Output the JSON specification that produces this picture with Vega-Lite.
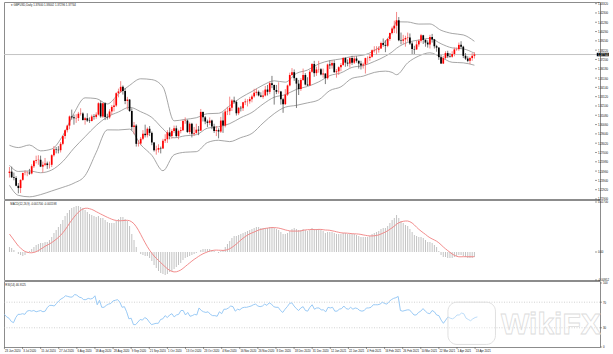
{
"$schema": "https://vega.github.io/schema/vega-lite/v6.json",
"background": "white",
"padding": {"left": 2, "top": 1, "right": 0, "bottom": 0},
"spacing": 1,
"bounds": "flush",
"config": {
  "view": {"stroke": "#8c8c8c", "strokeWidth": 1},
  "font": "Liberation Sans",
  "text": {"font": "Liberation Sans"}
},
"resolve": {"scale": {"x": "independent", "y": "independent"}},
"datasets": {
"pt": [{"v":1.4332,"t":"1.43320"},{"v":1.423,"t":"1.42300"},{"v":1.4128,"t":"1.41280"},{"v":1.4026,"t":"1.40260"},{"v":1.3924,"t":"1.39240"},{"v":1.3822,"t":"1.38220"},{"v":1.372,"t":"1.37200"},{"v":1.3618,"t":"1.36180"},{"v":1.3516,"t":"1.35160"},{"v":1.3414,"t":"1.34140"},{"v":1.3312,"t":"1.33120"},{"v":1.321,"t":"1.32100"},{"v":1.3108,"t":"1.31080"},{"v":1.3006,"t":"1.30060"},{"v":1.2904,"t":"1.29040"},{"v":1.2802,"t":"1.28020"},{"v":1.27,"t":"1.27000"},{"v":1.2598,"t":"1.25980"},{"v":1.2496,"t":"1.24960"},{"v":1.2394,"t":"1.23940"},{"v":1.2292,"t":"1.22920"},{"v":1.219,"t":"1.21900"}],
"mt": [{"v":0.017,"t":"0.01700"},{"v":0,"t":"0.00"},{"v":-0.00952,"t":"-0.00952"}],
"rt": [{"v":100,"t":"100"},{"v":70,"t":"70"},{"v":30,"t":"30"},{"v":0,"t":"0"}],
"dt": [{"i":0,"t":"23 Jun 2020"},{"i":8,"t":"3 Jul 2020"},{"i":16,"t":"15 Jul 2020"},{"i":24,"t":"27 Jul 2020"},{"i":32,"t":"6 Aug 2020"},{"i":40,"t":"18 Aug 2020"},{"i":48,"t":"28 Aug 2020"},{"i":56,"t":"9 Sep 2020"},{"i":64,"t":"21 Sep 2020"},{"i":72,"t":"1 Oct 2020"},{"i":80,"t":"13 Oct 2020"},{"i":88,"t":"23 Oct 2020"},{"i":96,"t":"4 Nov 2020"},{"i":104,"t":"16 Nov 2020"},{"i":112,"t":"26 Nov 2020"},{"i":120,"t":"8 Dec 2020"},{"i":128,"t":"18 Dec 2020"},{"i":136,"t":"31 Dec 2020"},{"i":144,"t":"12 Jan 2021"},{"i":152,"t":"22 Jan 2021"},{"i":160,"t":"4 Feb 2021"},{"i":168,"t":"16 Feb 2021"},{"i":176,"t":"26 Feb 2021"},{"i":184,"t":"10 Mar 2021"},{"i":192,"t":"22 Mar 2021"},{"i":200,"t":"1 Apr 2021"},{"i":208,"t":"13 Apr 2021"}],
"bb": [
{"i":0,"u":1.2779,"m":1.2560,"l":1.2341},{"i":4,"u":1.2754,"m":1.2492,"l":1.2230},{"i":9,"u":1.2782,"m":1.2498,"l":1.2214},{"i":14,"u":1.2718,"m":1.2478,"l":1.2238},{"i":19,"u":1.2738,"m":1.2508,"l":1.2278},{"i":24,"u":1.2886,"m":1.2602,"l":1.2318},{"i":29,"u":1.3130,"m":1.2747,"l":1.2364},{"i":34,"u":1.3299,"m":1.2873,"l":1.2447},{"i":39,"u":1.3291,"m":1.2996,"l":1.2701},{"i":44,"u":1.3232,"m":1.3090,"l":1.2948},{"i":49,"u":1.3341,"m":1.3144,"l":1.2947},{"i":54,"u":1.3436,"m":1.3196,"l":1.2956},{"i":59,"u":1.3508,"m":1.3147,"l":1.2786},{"i":64,"u":1.3499,"m":1.3084,"l":1.2669},{"i":69,"u":1.3418,"m":1.2959,"l":1.2500},{"i":74,"u":1.3047,"m":1.2861,"l":1.2675},{"i":79,"u":1.3063,"m":1.2883,"l":1.2703},{"i":84,"u":1.3081,"m":1.2895,"l":1.2709},{"i":89,"u":1.3125,"m":1.2967,"l":1.2809},{"i":94,"u":1.3130,"m":1.2982,"l":1.2834},{"i":99,"u":1.3213,"m":1.3016,"l":1.2819},{"i":104,"u":1.3301,"m":1.3082,"l":1.2863},{"i":109,"u":1.3369,"m":1.3139,"l":1.2909},{"i":114,"u":1.3439,"m":1.3231,"l":1.3023},{"i":119,"u":1.3486,"m":1.3306,"l":1.3126},{"i":124,"u":1.3471,"m":1.3334,"l":1.3197},{"i":129,"u":1.3567,"m":1.3392,"l":1.3217},{"i":134,"u":1.3604,"m":1.3424,"l":1.3244},{"i":139,"u":1.3671,"m":1.3474,"l":1.3277},{"i":144,"u":1.3707,"m":1.3543,"l":1.3379},{"i":149,"u":1.3726,"m":1.3573,"l":1.3420},{"i":154,"u":1.3753,"m":1.3633,"l":1.3513},{"i":159,"u":1.3767,"m":1.3652,"l":1.3537},{"i":164,"u":1.3818,"m":1.3698,"l":1.3578},{"i":169,"u":1.3920,"m":1.3756,"l":1.3592},{"i":172,"u":1.4026,"m":1.3802,"l":1.3578},{"i":174,"u":1.4133,"m":1.3843,"l":1.3553},{"i":179,"u":1.4131,"m":1.3907,"l":1.3683},{"i":184,"u":1.4108,"m":1.3933,"l":1.3758},{"i":189,"u":1.4109,"m":1.3951,"l":1.3793},{"i":194,"u":1.4040,"m":1.3892,"l":1.3744},{"i":199,"u":1.4005,"m":1.3847,"l":1.3689},{"i":204,"u":1.3989,"m":1.3836,"l":1.3683},{"i":209,"u":1.3919,"m":1.3788,"l":1.3657}
],
"bars": [
{"i":0,"o":1.2475,"h":1.2542,"l":1.2425,"c":1.2490,"m":0.0017,"s":0.00612,"r":51},
{"i":1,"o":1.2490,"h":1.2545,"l":1.2420,"c":1.2428,"m":0.00136,"s":0.0051,"r":47},
{"i":2,"o":1.2428,"h":1.2480,"l":1.2395,"c":1.2420,"m":0.00068,"s":0.00408,"r":45},
{"i":3,"o":1.2420,"h":1.2440,"l":1.2330,"c":1.2335,"m":0,"s":0.00306,"r":40},
{"i":4,"o":1.2335,"h":1.2365,"l":1.2252,"c":1.2310,"m":-0.00068,"s":0.00204,"r":38},
{"i":5,"o":1.2310,"h":1.2405,"l":1.2255,"c":1.2400,"m":-0.00102,"s":0.00136,"r":46},
{"i":6,"o":1.2400,"h":1.2480,"l":1.2390,"c":1.2475,"m":-0.00136,"s":0.00068,"r":51},
{"i":7,"o":1.2475,"h":1.2505,"l":1.2450,"c":1.2478,"m":-0.00102,"s":0.00017,"r":51},
{"i":8,"o":1.2478,"h":1.2495,"l":1.2440,"c":1.2480,"m":-0.00034,"s":-0.00007,"r":52},
{"i":9,"o":1.2480,"h":1.2520,"l":1.2455,"c":1.2470,"m":0.00034,"s":-0.00024,"r":51},
{"i":10,"o":1.2470,"h":1.2570,"l":1.2460,"c":1.2550,"m":0.00102,"s":-0.00027,"r":56},
{"i":11,"o":1.2550,"h":1.2615,"l":1.2530,"c":1.2610,"m":0.0017,"s":-0.00014,"r":57},
{"i":12,"o":1.2610,"h":1.2665,"l":1.2580,"c":1.2617,"m":0.00238,"s":0.0001,"r":56},
{"i":13,"o":1.2617,"h":1.2670,"l":1.2565,"c":1.2620,"m":0.00272,"s":0.00048,"r":57},
{"i":14,"o":1.2620,"h":1.2665,"l":1.2540,"c":1.2545,"m":0.00306,"s":0.00095,"r":55},
{"i":15,"o":1.2545,"h":1.2600,"l":1.2480,"c":1.2565,"m":0.00306,"s":0.00143,"r":56},
{"i":16,"o":1.2565,"h":1.2640,"l":1.2550,"c":1.2580,"m":0.0034,"s":0.00194,"r":57},
{"i":17,"o":1.2580,"h":1.2600,"l":1.2520,"c":1.2562,"m":0.0034,"s":0.00235,"r":55},
{"i":18,"o":1.2562,"h":1.2600,"l":1.2525,"c":1.2565,"m":0.00408,"s":0.00275,"r":56},
{"i":19,"o":1.2565,"h":1.2680,"l":1.2540,"c":1.2670,"m":0.0051,"s":0.0032,"r":62},
{"i":20,"o":1.2670,"h":1.2770,"l":1.2655,"c":1.2735,"m":0.00646,"s":0.00374,"r":65},
{"i":21,"o":1.2735,"h":1.2760,"l":1.2690,"c":1.2730,"m":0.00748,"s":0.00432,"r":65},
{"i":22,"o":1.2730,"h":1.2770,"l":1.2690,"c":1.2725,"m":0.0085,"s":0.00496,"r":64},
{"i":23,"o":1.2725,"h":1.2815,"l":1.2700,"c":1.2795,"m":0.00952,"s":0.00568,"r":68},
{"i":24,"o":1.2795,"h":1.2890,"l":1.2780,"c":1.2880,"m":0.01088,"s":0.00653,"r":72},
{"i":25,"o":1.2880,"h":1.2950,"l":1.2850,"c":1.2945,"m":0.01224,"s":0.00751,"r":75},
{"i":26,"o":1.2945,"h":1.3005,"l":1.2920,"c":1.2995,"m":0.01326,"s":0.0086,"r":77},
{"i":27,"o":1.2995,"h":1.3105,"l":1.2955,"c":1.3095,"m":0.01428,"s":0.00976,"r":80},
{"i":28,"o":1.3095,"h":1.3170,"l":1.3060,"c":1.3085,"m":0.01496,"s":0.01085,"r":79},
{"i":29,"o":1.3085,"h":1.3115,"l":1.3005,"c":1.3075,"m":0.0153,"s":0.01183,"r":78},
{"i":30,"o":1.3075,"h":1.3120,"l":1.3025,"c":1.3078,"m":0.01564,"s":0.01272,"r":78},
{"i":31,"o":1.3078,"h":1.3145,"l":1.3045,"c":1.3125,"m":0.01564,"s":0.01353,"r":82},
{"i":32,"o":1.3125,"h":1.3185,"l":1.3105,"c":1.3128,"m":0.0153,"s":0.01418,"r":81},
{"i":33,"o":1.3128,"h":1.3140,"l":1.3050,"c":1.3055,"m":0.01496,"s":0.01462,"r":78},
{"i":34,"o":1.3055,"h":1.3090,"l":1.3005,"c":1.3075,"m":0.01428,"s":0.01486,"r":77},
{"i":35,"o":1.3075,"h":1.3130,"l":1.3035,"c":1.3050,"m":0.0136,"s":0.01489,"r":74},
{"i":36,"o":1.3050,"h":1.3085,"l":1.3025,"c":1.3045,"m":0.01292,"s":0.01472,"r":74},
{"i":37,"o":1.3045,"h":1.3115,"l":1.3040,"c":1.3095,"m":0.01258,"s":0.01448,"r":76},
{"i":38,"o":1.3095,"h":1.3120,"l":1.3060,"c":1.3090,"m":0.01224,"s":0.01414,"r":75},
{"i":39,"o":1.3090,"h":1.3140,"l":1.3070,"c":1.3115,"m":0.0119,"s":0.0137,"r":76},
{"i":40,"o":1.3115,"h":1.3250,"l":1.3105,"c":1.3240,"m":0.01224,"s":0.01333,"r":80},
{"i":41,"o":1.3240,"h":1.3267,"l":1.3080,"c":1.3095,"m":0.01156,"s":0.01292,"r":66},
{"i":42,"o":1.3095,"h":1.3245,"l":1.3080,"c":1.3240,"m":0.01156,"s":0.01255,"r":73},
{"i":43,"o":1.3240,"h":1.3250,"l":1.3055,"c":1.3090,"m":0.01088,"s":0.01217,"r":62},
{"i":44,"o":1.3090,"h":1.3125,"l":1.3060,"c":1.3085,"m":0.0102,"s":0.0118,"r":62},
{"i":45,"o":1.3085,"h":1.3175,"l":1.3070,"c":1.3150,"m":0.00986,"s":0.01146,"r":65},
{"i":46,"o":1.3150,"h":1.3220,"l":1.3115,"c":1.3200,"m":0.00986,"s":0.01115,"r":67},
{"i":47,"o":1.3200,"h":1.3285,"l":1.3150,"c":1.3215,"m":0.00986,"s":0.01088,"r":68},
{"i":48,"o":1.3215,"h":1.3360,"l":1.3200,"c":1.3350,"m":0.01054,"s":0.01074,"r":72},
{"i":49,"o":1.3350,"h":1.3400,"l":1.3305,"c":1.3370,"m":0.01122,"s":0.01061,"r":73},
{"i":50,"o":1.3370,"h":1.3482,"l":1.3355,"c":1.3420,"m":0.0119,"s":0.01064,"r":74},
{"i":51,"o":1.3420,"h":1.3435,"l":1.3335,"c":1.3375,"m":0.0119,"s":0.01068,"r":70},
{"i":52,"o":1.3375,"h":1.3405,"l":1.3230,"c":1.3265,"m":0.01122,"s":0.01074,"r":62},
{"i":53,"o":1.3265,"h":1.3310,"l":1.3170,"c":1.3280,"m":0.01054,"s":0.01078,"r":63},
{"i":54,"o":1.3280,"h":1.3285,"l":1.3145,"c":1.3155,"m":0.00884,"s":0.01064,"r":55},
{"i":55,"o":1.3155,"h":1.3185,"l":1.2940,"c":1.2980,"m":0.00612,"s":0.01023,"r":44},
{"i":56,"o":1.2980,"h":1.3035,"l":1.2900,"c":1.2995,"m":0.00408,"s":0.00959,"r":45},
{"i":57,"o":1.2995,"h":1.3010,"l":1.2765,"c":1.2795,"m":0.0017,"s":0.0086,"r":35},
{"i":58,"o":1.2795,"h":1.2835,"l":1.2765,"c":1.2798,"m":0,"s":0.00738,"r":35},
{"i":59,"o":1.2798,"h":1.2870,"l":1.2780,"c":1.2850,"m":-0.00068,"s":0.00598,"r":39},
{"i":60,"o":1.2850,"h":1.2945,"l":1.2835,"c":1.2905,"m":-0.00102,"s":0.00452,"r":43},
{"i":61,"o":1.2905,"h":1.3005,"l":1.2865,"c":1.2890,"m":-0.00136,"s":0.00313,"r":42},
{"i":62,"o":1.2890,"h":1.2975,"l":1.2865,"c":1.2960,"m":-0.00136,"s":0.0018,"r":46},
{"i":63,"o":1.2960,"h":1.2990,"l":1.2880,"c":1.2915,"m":-0.00204,"s":0.00061,"r":44},
{"i":64,"o":1.2915,"h":1.2930,"l":1.2780,"c":1.2810,"m":-0.00306,"s":-0.00041,"r":39},
{"i":65,"o":1.2810,"h":1.2815,"l":1.2710,"c":1.2725,"m":-0.00442,"s":-0.00136,"r":35},
{"i":66,"o":1.2725,"h":1.2775,"l":1.2676,"c":1.2730,"m":-0.00544,"s":-0.00214,"r":36},
{"i":67,"o":1.2730,"h":1.2790,"l":1.2700,"c":1.2750,"m":-0.00646,"s":-0.00286,"r":37},
{"i":68,"o":1.2750,"h":1.2765,"l":1.2690,"c":1.2745,"m":-0.00714,"s":-0.0036,"r":37},
{"i":69,"o":1.2745,"h":1.2850,"l":1.2740,"c":1.2830,"m":-0.00748,"s":-0.00432,"r":43},
{"i":70,"o":1.2830,"h":1.2900,"l":1.2805,"c":1.2845,"m":-0.00782,"s":-0.00503,"r":44},
{"i":71,"o":1.2845,"h":1.2945,"l":1.2805,"c":1.2920,"m":-0.00748,"s":-0.00571,"r":49},
{"i":72,"o":1.2920,"h":1.2975,"l":1.2845,"c":1.2880,"m":-0.0068,"s":-0.00622,"r":46},
{"i":73,"o":1.2880,"h":1.2955,"l":1.2850,"c":1.2935,"m":-0.00646,"s":-0.0066,"r":50},
{"i":74,"o":1.2935,"h":1.2995,"l":1.2915,"c":1.2965,"m":-0.00578,"s":-0.00677,"r":52},
{"i":75,"o":1.2965,"h":1.2995,"l":1.2865,"c":1.2880,"m":-0.0051,"s":-0.00673,"r":47},
{"i":76,"o":1.2880,"h":1.2950,"l":1.2845,"c":1.2935,"m":-0.00442,"s":-0.00649,"r":50},
{"i":77,"o":1.2935,"h":1.2980,"l":1.2910,"c":1.2945,"m":-0.00374,"s":-0.00612,"r":51},
{"i":78,"o":1.2945,"h":1.3060,"l":1.2935,"c":1.3045,"m":-0.00272,"s":-0.00558,"r":57},
{"i":79,"o":1.3045,"h":1.3085,"l":1.3015,"c":1.3050,"m":-0.00204,"s":-0.00496,"r":57},
{"i":80,"o":1.3050,"h":1.3060,"l":1.2915,"c":1.2925,"m":-0.0017,"s":-0.00432,"r":50},
{"i":81,"o":1.2925,"h":1.3030,"l":1.2900,"c":1.3015,"m":-0.00136,"s":-0.00371,"r":54},
{"i":82,"o":1.3015,"h":1.3025,"l":1.2865,"c":1.2905,"m":-0.00102,"s":-0.00309,"r":48},
{"i":83,"o":1.2905,"h":1.2980,"l":1.2880,"c":1.2915,"m":-0.00068,"s":-0.00252,"r":49},
{"i":84,"o":1.2915,"h":1.3015,"l":1.2905,"c":1.2950,"m":-0.00034,"s":-0.00201,"r":51},
{"i":85,"o":1.2950,"h":1.2990,"l":1.2890,"c":1.2940,"m":0,"s":-0.0015,"r":50},
{"i":86,"o":1.2940,"h":1.3177,"l":1.2935,"c":1.3145,"m":0.00068,"s":-0.00102,"r":61},
{"i":87,"o":1.3145,"h":1.3150,"l":1.3040,"c":1.3085,"m":0.00102,"s":-0.00061,"r":57},
{"i":88,"o":1.3085,"h":1.3100,"l":1.3010,"c":1.3040,"m":0.00102,"s":-0.00027,"r":55},
{"i":89,"o":1.3040,"h":1.3060,"l":1.2980,"c":1.3025,"m":0.00102,"s":0.00003,"r":54},
{"i":90,"o":1.3025,"h":1.3085,"l":1.3000,"c":1.3050,"m":0.00102,"s":0.00031,"r":55},
{"i":91,"o":1.3050,"h":1.3060,"l":1.2955,"c":1.2985,"m":0.00068,"s":0.00048,"r":51},
{"i":92,"o":1.2985,"h":1.3015,"l":1.2915,"c":1.2935,"m":0.00034,"s":0.00061,"r":49},
{"i":93,"o":1.2935,"h":1.2990,"l":1.2880,"c":1.2945,"m":0,"s":0.00065,"r":49},
{"i":94,"o":1.2945,"h":1.2965,"l":1.2855,"c":1.2930,"m":-0.00034,"s":0.00061,"r":48},
{"i":95,"o":1.2930,"h":1.3090,"l":1.2915,"c":1.3050,"m":0.00034,"s":0.00058,"r":55},
{"i":96,"o":1.3050,"h":1.3140,"l":1.2915,"c":1.2995,"m":0.00068,"s":0.00054,"r":52},
{"i":97,"o":1.2995,"h":1.3175,"l":1.2975,"c":1.3150,"m":0.0017,"s":0.00061,"r":59},
{"i":98,"o":1.3150,"h":1.3200,"l":1.3110,"c":1.3153,"m":0.00272,"s":0.00078,"r":59},
{"i":99,"o":1.3153,"h":1.3312,"l":1.3110,"c":1.3190,"m":0.00374,"s":0.00109,"r":61},
{"i":100,"o":1.3190,"h":1.3285,"l":1.3155,"c":1.3270,"m":0.00476,"s":0.00156,"r":64},
{"i":101,"o":1.3270,"h":1.3312,"l":1.3235,"c":1.3255,"m":0.00544,"s":0.00211,"r":63},
{"i":102,"o":1.3255,"h":1.3270,"l":1.3105,"c":1.3130,"m":0.00544,"s":0.00272,"r":56},
{"i":103,"o":1.3130,"h":1.3200,"l":1.3110,"c":1.3190,"m":0.00578,"s":0.0034,"r":59},
{"i":104,"o":1.3190,"h":1.3210,"l":1.3150,"c":1.3185,"m":0.00612,"s":0.00405,"r":58},
{"i":105,"o":1.3185,"h":1.3255,"l":1.3155,"c":1.3250,"m":0.00646,"s":0.00469,"r":61},
{"i":106,"o":1.3250,"h":1.3290,"l":1.3220,"c":1.3260,"m":0.0068,"s":0.00524,"r":62},
{"i":107,"o":1.3260,"h":1.3285,"l":1.3205,"c":1.3262,"m":0.00714,"s":0.00575,"r":62},
{"i":108,"o":1.3262,"h":1.3310,"l":1.3235,"c":1.3285,"m":0.00748,"s":0.00615,"r":63},
{"i":109,"o":1.3285,"h":1.3335,"l":1.3250,"c":1.3315,"m":0.00782,"s":0.00649,"r":64},
{"i":110,"o":1.3315,"h":1.3398,"l":1.3300,"c":1.3355,"m":0.00816,"s":0.0068,"r":66},
{"i":111,"o":1.3355,"h":1.3400,"l":1.3325,"c":1.3365,"m":0.0085,"s":0.00714,"r":67},
{"i":112,"o":1.3365,"h":1.3380,"l":1.3315,"c":1.3325,"m":0.0085,"s":0.00745,"r":64},
{"i":113,"o":1.3325,"h":1.3360,"l":1.3305,"c":1.3310,"m":0.00816,"s":0.00768,"r":63},
{"i":114,"o":1.3310,"h":1.3380,"l":1.3290,"c":1.3325,"m":0.00816,"s":0.00785,"r":64},
{"i":115,"o":1.3325,"h":1.3430,"l":1.3315,"c":1.3390,"m":0.00816,"s":0.00802,"r":67},
{"i":116,"o":1.3390,"h":1.3440,"l":1.3325,"c":1.3365,"m":0.00816,"s":0.00813,"r":65},
{"i":117,"o":1.3365,"h":1.3480,"l":1.3340,"c":1.3460,"m":0.0085,"s":0.00823,"r":69},
{"i":118,"o":1.3460,"h":1.3540,"l":1.3405,"c":1.3440,"m":0.0085,"s":0.0083,"r":67},
{"i":119,"o":1.3440,"h":1.3445,"l":1.3225,"c":1.3385,"m":0.00816,"s":0.0083,"r":63},
{"i":120,"o":1.3385,"h":1.3440,"l":1.3340,"c":1.3365,"m":0.00782,"s":0.00823,"r":62},
{"i":121,"o":1.3365,"h":1.3470,"l":1.3345,"c":1.3368,"m":0.00748,"s":0.00813,"r":62},
{"i":122,"o":1.3368,"h":1.3375,"l":1.3225,"c":1.3285,"m":0.0068,"s":0.00796,"r":57},
{"i":123,"o":1.3285,"h":1.3300,"l":1.3135,"c":1.3230,"m":0.00612,"s":0.00775,"r":54},
{"i":124,"o":1.3230,"h":1.3395,"l":1.3220,"c":1.3335,"m":0.00612,"s":0.00751,"r":59},
{"i":125,"o":1.3335,"h":1.3445,"l":1.3320,"c":1.3435,"m":0.00646,"s":0.00734,"r":63},
{"i":126,"o":1.3435,"h":1.3575,"l":1.3425,"c":1.3550,"m":0.00714,"s":0.00717,"r":68},
{"i":127,"o":1.3550,"h":1.3625,"l":1.3540,"c":1.3580,"m":0.00782,"s":0.00711,"r":69},
{"i":128,"o":1.3580,"h":1.3610,"l":1.3485,"c":1.3515,"m":0.00816,"s":0.00711,"r":64},
{"i":129,"o":1.3515,"h":1.3520,"l":1.3188,"c":1.3455,"m":0.00782,"s":0.00711,"r":60},
{"i":130,"o":1.3455,"h":1.3495,"l":1.3330,"c":1.3395,"m":0.00748,"s":0.00711,"r":57},
{"i":131,"o":1.3395,"h":1.3515,"l":1.3375,"c":1.3495,"m":0.00748,"s":0.00717,"r":61},
{"i":132,"o":1.3495,"h":1.3620,"l":1.3485,"c":1.3550,"m":0.00782,"s":0.00738,"r":63},
{"i":133,"o":1.3550,"h":1.3570,"l":1.3435,"c":1.3445,"m":0.00748,"s":0.00751,"r":57},
{"i":134,"o":1.3445,"h":1.3525,"l":1.3430,"c":1.3435,"m":0.00714,"s":0.00758,"r":56},
{"i":135,"o":1.3435,"h":1.3605,"l":1.3430,"c":1.3585,"m":0.00748,"s":0.00762,"r":62},
{"i":136,"o":1.3585,"h":1.3680,"l":1.3575,"c":1.3670,"m":0.00816,"s":0.00768,"r":66},
{"i":137,"o":1.3670,"h":1.3705,"l":1.3530,"c":1.3570,"m":0.00782,"s":0.00762,"r":59},
{"i":138,"o":1.3570,"h":1.3640,"l":1.3540,"c":1.3610,"m":0.00782,"s":0.00762,"r":61},
{"i":139,"o":1.3610,"h":1.3705,"l":1.3575,"c":1.3612,"m":0.00782,"s":0.00768,"r":61},
{"i":140,"o":1.3612,"h":1.3625,"l":1.3545,"c":1.3555,"m":0.00748,"s":0.00768,"r":58},
{"i":141,"o":1.3555,"h":1.3620,"l":1.3520,"c":1.3565,"m":0.00714,"s":0.00758,"r":58},
{"i":142,"o":1.3565,"h":1.3570,"l":1.3450,"c":1.3515,"m":0.00646,"s":0.00748,"r":55},
{"i":143,"o":1.3515,"h":1.3675,"l":1.3500,"c":1.3665,"m":0.0068,"s":0.00745,"r":62},
{"i":144,"o":1.3665,"h":1.3710,"l":1.3615,"c":1.3655,"m":0.0068,"s":0.00738,"r":61},
{"i":145,"o":1.3655,"h":1.3710,"l":1.3620,"c":1.3680,"m":0.0068,"s":0.00721,"r":62},
{"i":146,"o":1.3680,"h":1.3710,"l":1.3575,"c":1.3580,"m":0.00646,"s":0.00707,"r":56},
{"i":147,"o":1.3580,"h":1.3615,"l":1.3520,"c":1.3590,"m":0.00612,"s":0.00687,"r":56},
{"i":148,"o":1.3590,"h":1.3645,"l":1.3550,"c":1.3635,"m":0.00612,"s":0.0067,"r":59},
{"i":149,"o":1.3635,"h":1.3680,"l":1.3590,"c":1.3660,"m":0.00612,"s":0.00653,"r":60},
{"i":150,"o":1.3660,"h":1.3745,"l":1.3650,"c":1.3735,"m":0.00646,"s":0.00646,"r":64},
{"i":151,"o":1.3735,"h":1.3745,"l":1.3640,"c":1.3685,"m":0.00646,"s":0.00646,"r":60},
{"i":152,"o":1.3685,"h":1.3720,"l":1.3645,"c":1.3675,"m":0.00612,"s":0.00639,"r":59},
{"i":153,"o":1.3675,"h":1.3745,"l":1.3630,"c":1.3735,"m":0.00612,"s":0.00632,"r":62},
{"i":154,"o":1.3735,"h":1.3760,"l":1.3660,"c":1.3685,"m":0.00612,"s":0.00622,"r":59},
{"i":155,"o":1.3685,"h":1.3755,"l":1.3670,"c":1.3730,"m":0.00612,"s":0.00619,"r":61},
{"i":156,"o":1.3730,"h":1.3755,"l":1.3685,"c":1.3705,"m":0.00578,"s":0.00615,"r":60},
{"i":157,"o":1.3705,"h":1.3710,"l":1.3620,"c":1.3675,"m":0.00544,"s":0.00609,"r":57},
{"i":158,"o":1.3675,"h":1.3705,"l":1.3610,"c":1.3655,"m":0.0051,"s":0.00598,"r":56},
{"i":159,"o":1.3655,"h":1.3685,"l":1.3620,"c":1.3665,"m":0.0051,"s":0.00581,"r":57},
{"i":160,"o":1.3665,"h":1.3740,"l":1.3566,"c":1.3735,"m":0.0051,"s":0.00568,"r":61},
{"i":161,"o":1.3735,"h":1.3755,"l":1.3675,"c":1.3737,"m":0.0051,"s":0.00554,"r":61},
{"i":162,"o":1.3737,"h":1.3780,"l":1.3705,"c":1.3750,"m":0.00544,"s":0.00547,"r":62},
{"i":163,"o":1.3750,"h":1.3830,"l":1.3740,"c":1.3820,"m":0.00612,"s":0.00547,"r":66},
{"i":164,"o":1.3820,"h":1.3865,"l":1.3795,"c":1.3825,"m":0.00646,"s":0.00551,"r":66},
{"i":165,"o":1.3825,"h":1.3865,"l":1.3775,"c":1.3827,"m":0.0068,"s":0.00564,"r":66},
{"i":166,"o":1.3827,"h":1.3865,"l":1.3795,"c":1.3840,"m":0.00714,"s":0.00581,"r":67},
{"i":167,"o":1.3840,"h":1.3915,"l":1.3835,"c":1.3900,"m":0.00782,"s":0.00612,"r":70},
{"i":168,"o":1.3900,"h":1.3950,"l":1.3860,"c":1.3880,"m":0.00816,"s":0.00646,"r":68},
{"i":169,"o":1.3880,"h":1.3930,"l":1.3800,"c":1.3870,"m":0.00816,"s":0.0068,"r":67},
{"i":170,"o":1.3870,"h":1.3955,"l":1.3855,"c":1.3945,"m":0.00884,"s":0.00721,"r":71},
{"i":171,"o":1.3945,"h":1.4015,"l":1.3925,"c":1.4010,"m":0.00986,"s":0.00772,"r":74},
{"i":172,"o":1.4010,"h":1.4080,"l":1.3995,"c":1.4060,"m":0.01088,"s":0.00823,"r":76},
{"i":173,"o":1.4060,"h":1.4145,"l":1.4010,"c":1.4090,"m":0.01156,"s":0.00881,"r":77},
{"i":174,"o":1.4090,"h":1.4241,"l":1.4005,"c":1.4150,"m":0.01258,"s":0.00945,"r":79},
{"i":175,"o":1.4150,"h":1.4185,"l":1.3920,"c":1.3930,"m":0.01156,"s":0.00993,"r":57},
{"i":176,"o":1.3930,"h":1.4015,"l":1.3886,"c":1.3925,"m":0.01054,"s":0.01023,"r":56},
{"i":177,"o":1.3925,"h":1.3990,"l":1.3890,"c":1.3940,"m":0.00986,"s":0.01044,"r":57},
{"i":178,"o":1.3940,"h":1.3980,"l":1.3860,"c":1.3955,"m":0.00918,"s":0.01054,"r":58},
{"i":179,"o":1.3955,"h":1.4015,"l":1.3915,"c":1.3960,"m":0.00884,"s":0.01054,"r":58},
{"i":180,"o":1.3960,"h":1.4005,"l":1.3880,"c":1.3895,"m":0.00782,"s":0.0103,"r":54},
{"i":181,"o":1.3895,"h":1.3915,"l":1.3780,"c":1.3835,"m":0.0068,"s":0.00986,"r":50},
{"i":182,"o":1.3835,"h":1.3870,"l":1.3780,"c":1.3830,"m":0.00578,"s":0.00921,"r":50},
{"i":183,"o":1.3830,"h":1.3925,"l":1.3825,"c":1.3885,"m":0.00544,"s":0.00843,"r":54},
{"i":184,"o":1.3885,"h":1.3940,"l":1.3860,"c":1.3925,"m":0.0051,"s":0.00772,"r":56},
{"i":185,"o":1.3925,"h":1.4000,"l":1.3905,"c":1.3985,"m":0.0051,"s":0.00711,"r":60},
{"i":186,"o":1.3985,"h":1.3990,"l":1.3890,"c":1.3935,"m":0.00476,"s":0.00653,"r":56},
{"i":187,"o":1.3935,"h":1.3940,"l":1.3860,"c":1.3905,"m":0.00408,"s":0.00598,"r":53},
{"i":188,"o":1.3905,"h":1.3930,"l":1.3850,"c":1.3885,"m":0.0034,"s":0.00537,"r":52},
{"i":189,"o":1.3885,"h":1.3990,"l":1.3840,"c":1.3965,"m":0.0034,"s":0.00486,"r":57},
{"i":190,"o":1.3965,"h":1.4000,"l":1.3905,"c":1.3940,"m":0.00306,"s":0.00445,"r":55},
{"i":191,"o":1.3940,"h":1.3945,"l":1.3840,"c":1.3865,"m":0.00238,"s":0.00408,"r":50},
{"i":192,"o":1.3865,"h":1.3880,"l":1.3805,"c":1.3850,"m":0.0017,"s":0.00367,"r":49},
{"i":193,"o":1.3850,"h":1.3855,"l":1.3715,"c":1.3745,"m":0.00034,"s":0.00313,"r":42},
{"i":194,"o":1.3745,"h":1.3770,"l":1.3670,"c":1.3675,"m":-0.00102,"s":0.00245,"r":37},
{"i":195,"o":1.3675,"h":1.3760,"l":1.3670,"c":1.3735,"m":-0.0017,"s":0.00173,"r":42},
{"i":196,"o":1.3735,"h":1.3810,"l":1.3725,"c":1.3790,"m":-0.0017,"s":0.00109,"r":47},
{"i":197,"o":1.3790,"h":1.3815,"l":1.3735,"c":1.3755,"m":-0.00204,"s":0.00048,"r":45},
{"i":198,"o":1.3755,"h":1.3790,"l":1.3740,"c":1.3750,"m":-0.00204,"s":-0.0001,"r":44},
{"i":199,"o":1.3750,"h":1.3810,"l":1.3740,"c":1.3780,"m":-0.00204,"s":-0.00068,"r":46},
{"i":200,"o":1.3780,"h":1.3850,"l":1.3755,"c":1.3830,"m":-0.0017,"s":-0.00112,"r":50},
{"i":201,"o":1.3830,"h":1.3850,"l":1.3815,"c":1.3833,"m":-0.00136,"s":-0.00146,"r":50},
{"i":202,"o":1.3833,"h":1.3905,"l":1.3815,"c":1.3880,"m":-0.00102,"s":-0.00163,"r":53},
{"i":203,"o":1.3880,"h":1.3920,"l":1.3840,"c":1.3860,"m":-0.00102,"s":-0.00163,"r":52},
{"i":204,"o":1.3860,"h":1.3870,"l":1.3735,"c":1.3760,"m":-0.00136,"s":-0.0016,"r":45},
{"i":205,"o":1.3760,"h":1.3790,"l":1.3715,"c":1.3730,"m":-0.0017,"s":-0.0016,"r":43},
{"i":206,"o":1.3730,"h":1.3755,"l":1.3690,"c":1.3705,"m":-0.00204,"s":-0.0016,"r":41},
{"i":207,"o":1.3705,"h":1.3750,"l":1.3670,"c":1.3735,"m":-0.00204,"s":-0.0016,"r":44},
{"i":208,"o":1.3735,"h":1.3790,"l":1.3705,"c":1.3760,"m":-0.00204,"s":-0.0016,"r":46},
{"i":209,"o":1.3760,"h":1.3800,"l":1.3730,"c":1.3775,"m":-0.0017,"s":-0.0016,"r":47}
]
},
"vconcat": [
{
 "width": 596, "height": 197,
 "layer": [
  {"data": {"name": "bb"}, "mark": {"type": "line", "color": "#8f8f8f", "strokeWidth": 0.8, "interpolate": "monotone"},
   "encoding": {
    "x": {"field": "i", "type": "quantitative", "scale": {"domain": [-0.2, 263.2], "nice": false, "zero": false}, "axis": null},
    "y": {"field": "u", "type": "quantitative", "scale": {"domain": [1.219, 1.435], "nice": false, "zero": false}, "axis": null}}},
  {"data": {"name": "bb"}, "mark": {"type": "line", "color": "#8f8f8f", "strokeWidth": 0.8, "interpolate": "monotone"},
   "encoding": {
    "x": {"field": "i", "type": "quantitative", "scale": {"domain": [-0.2, 263.2], "nice": false, "zero": false}, "axis": null},
    "y": {"field": "m", "type": "quantitative", "scale": {"domain": [1.219, 1.435], "nice": false, "zero": false}, "axis": null}}},
  {"data": {"name": "bb"}, "mark": {"type": "line", "color": "#8f8f8f", "strokeWidth": 0.8, "interpolate": "monotone"},
   "encoding": {
    "x": {"field": "i", "type": "quantitative", "scale": {"domain": [-0.2, 263.2], "nice": false, "zero": false}, "axis": null},
    "y": {"field": "l", "type": "quantitative", "scale": {"domain": [1.219, 1.435], "nice": false, "zero": false}, "axis": null}}},
  {"data": {"values": [{}]}, "mark": {"type": "rule", "color": "#c4c4c4", "strokeWidth": 1},
   "encoding": {"y": {"datum": 1.3774, "type": "quantitative", "scale": {"domain": [1.219, 1.435], "nice": false, "zero": false}, "axis": null}}},
  {"data": {"name": "bars"}, "mark": {"type": "rule", "strokeWidth": 0.8},
   "encoding": {
    "x": {"field": "i", "type": "quantitative", "scale": {"domain": [-0.2, 263.2], "nice": false, "zero": false}, "axis": null},
    "y": {"field": "l", "type": "quantitative", "scale": {"domain": [1.219, 1.435], "nice": false, "zero": false}, "axis": null},
    "y2": {"field": "h"},
    "color": {"condition": {"test": "datum.c >= datum.o", "value": "#f26a6a"}, "value": "#5a5a5a"}}},
  {"data": {"name": "bars"}, "mark": {"type": "bar", "size": 1.7},
   "encoding": {
    "x": {"field": "i", "type": "quantitative", "scale": {"domain": [-0.2, 263.2], "nice": false, "zero": false}, "axis": null},
    "y": {"field": "o", "type": "quantitative", "scale": {"domain": [1.219, 1.435], "nice": false, "zero": false}, "axis": null},
    "y2": {"field": "c"},
    "color": {"condition": {"test": "datum.c >= datum.o", "value": "#ff0000"}, "value": "#000000"}}},
  {"data": {"name": "pt"}, "mark": {"type": "rule", "color": "#555555", "strokeWidth": 0.6},
   "encoding": {
    "x": {"datum": 263.2, "type": "quantitative", "scale": {"domain": [-0.2, 263.2], "nice": false, "zero": false}, "axis": null},
    "x2": {"datum": 264.1},
    "y": {"field": "v", "type": "quantitative", "scale": {"domain": [1.219, 1.435], "nice": false, "zero": false}, "axis": null}}},
  {"data": {"name": "pt"}, "mark": {"type": "text", "color": "#111111", "fontSize": 2.8, "align": "left", "baseline": "middle"},
   "encoding": {
    "x": {"datum": 264.5, "type": "quantitative", "scale": {"domain": [-0.2, 263.2], "nice": false, "zero": false}, "axis": null},
    "y": {"field": "v", "type": "quantitative", "scale": {"domain": [1.219, 1.435], "nice": false, "zero": false}, "axis": null},
    "text": {"field": "t"}}},
  {"data": {"values": [{}]}, "mark": {"type": "rect", "color": "#000000"},
   "encoding": {
    "x": {"datum": 264.0, "type": "quantitative", "scale": {"domain": [-0.2, 263.2], "nice": false, "zero": false}, "axis": null},
    "x2": {"datum": 269.4},
    "y": {"datum": 1.3755, "type": "quantitative", "scale": {"domain": [1.219, 1.435], "nice": false, "zero": false}, "axis": null},
    "y2": {"datum": 1.3793}}},
  {"data": {"values": [{}]}, "mark": {"type": "text", "color": "#ffffff", "fontSize": 2.8, "align": "left", "baseline": "middle"},
   "encoding": {
    "x": {"datum": 264.5, "type": "quantitative", "scale": {"domain": [-0.2, 263.2], "nice": false, "zero": false}, "axis": null},
    "y": {"datum": 1.3774, "type": "quantitative", "scale": {"domain": [1.219, 1.435], "nice": false, "zero": false}, "axis": null},
    "text": {"value": "1.37744"}}},
  {"data": {"values": [{}]}, "mark": {"type": "text", "color": "#222222", "fontSize": 2.8, "align": "left", "baseline": "middle"},
   "encoding": {
    "x": {"datum": 0.6, "type": "quantitative", "scale": {"domain": [-0.2, 263.2], "nice": false, "zero": false}, "axis": null},
    "y": {"datum": 1.4318, "type": "quantitative", "scale": {"domain": [1.219, 1.435], "nice": false, "zero": false}, "axis": null},
    "text": {"value": "▾ GBPUSD,Daily  1.37600 1.38002 1.37296 1.37744"}}}
 ]
},
{
 "width": 596, "height": 80,
 "layer": [
  {"data": {"name": "bars"}, "mark": {"type": "bar", "size": 1, "color": "#c2c2c2"},
   "encoding": {
    "x": {"field": "i", "type": "quantitative", "scale": {"domain": [-0.2, 263.2], "nice": false, "zero": false}, "axis": null},
    "y": {"field": "m", "type": "quantitative", "scale": {"domain": [-0.00952, 0.01768], "nice": false, "zero": false}, "axis": null},
    "y2": {"datum": 0}}},
  {"data": {"name": "bars"}, "mark": {"type": "line", "color": "#f08080", "strokeWidth": 0.9},
   "encoding": {
    "x": {"field": "i", "type": "quantitative", "scale": {"domain": [-0.2, 263.2], "nice": false, "zero": false}, "axis": null},
    "y": {"field": "s", "type": "quantitative", "scale": {"domain": [-0.00952, 0.01768], "nice": false, "zero": false}, "axis": null}}},
  {"data": {"name": "mt"}, "mark": {"type": "rule", "color": "#555555", "strokeWidth": 0.6},
   "encoding": {
    "x": {"datum": 263.2, "type": "quantitative", "scale": {"domain": [-0.2, 263.2], "nice": false, "zero": false}, "axis": null},
    "x2": {"datum": 264.1},
    "y": {"field": "v", "type": "quantitative", "scale": {"domain": [-0.00952, 0.01768], "nice": false, "zero": false}, "axis": null}}},
  {"data": {"name": "mt"}, "mark": {"type": "text", "color": "#111111", "fontSize": 2.8, "align": "left", "baseline": "middle"},
   "encoding": {
    "x": {"datum": 264.5, "type": "quantitative", "scale": {"domain": [-0.2, 263.2], "nice": false, "zero": false}, "axis": null},
    "y": {"field": "v", "type": "quantitative", "scale": {"domain": [-0.00952, 0.01768], "nice": false, "zero": false}, "axis": null},
    "text": {"field": "t"}}},
  {"data": {"values": [{}]}, "mark": {"type": "text", "color": "#222222", "fontSize": 2.8, "align": "left", "baseline": "middle"},
   "encoding": {
    "x": {"datum": 0.4, "type": "quantitative", "scale": {"domain": [-0.2, 263.2], "nice": false, "zero": false}, "axis": null},
    "y": {"datum": 0.0165, "type": "quantitative", "scale": {"domain": [-0.00952, 0.01768], "nice": false, "zero": false}, "axis": null},
    "text": {"value": "MACD(12,26,9) -0.001700 -0.001598"}}}
 ]
},
{
 "width": 596, "height": 66,
 "layer": [
  {"data": {"values": [{}]}, "mark": {"type": "rule", "color": "#b5b5b5", "strokeWidth": 0.6, "strokeDash": [1, 1.5]},
   "encoding": {"y": {"datum": 70, "type": "quantitative", "scale": {"domain": [0, 103.1], "nice": false, "zero": false}, "axis": null}}},
  {"data": {"values": [{}]}, "mark": {"type": "rule", "color": "#b5b5b5", "strokeWidth": 0.6, "strokeDash": [1, 1.5]},
   "encoding": {"y": {"datum": 30, "type": "quantitative", "scale": {"domain": [0, 103.1], "nice": false, "zero": false}, "axis": null}}},
  {"data": {"name": "bars"}, "mark": {"type": "line", "color": "#8fc4f4", "strokeWidth": 0.9},
   "encoding": {
    "x": {"field": "i", "type": "quantitative", "scale": {"domain": [-0.2, 263.2], "nice": false, "zero": false}, "axis": null},
    "y": {"field": "r", "type": "quantitative", "scale": {"domain": [0, 103.1], "nice": false, "zero": false}, "axis": null}}},
  {"data": {"name": "rt"}, "mark": {"type": "rule", "color": "#555555", "strokeWidth": 0.6},
   "encoding": {
    "x": {"datum": 263.2, "type": "quantitative", "scale": {"domain": [-0.2, 263.2], "nice": false, "zero": false}, "axis": null},
    "x2": {"datum": 264.1},
    "y": {"field": "v", "type": "quantitative", "scale": {"domain": [0, 103.1], "nice": false, "zero": false}, "axis": null}}},
  {"data": {"name": "rt"}, "mark": {"type": "text", "color": "#111111", "fontSize": 2.8, "align": "left", "baseline": "middle"},
   "encoding": {
    "x": {"datum": 264.5, "type": "quantitative", "scale": {"domain": [-0.2, 263.2], "nice": false, "zero": false}, "axis": null},
    "y": {"field": "v", "type": "quantitative", "scale": {"domain": [0, 103.1], "nice": false, "zero": false}, "axis": null},
    "text": {"field": "t"}}},
  {"data": {"name": "dt"}, "mark": {"type": "rule", "color": "#555555", "strokeWidth": 0.6},
   "encoding": {
    "x": {"field": "i", "type": "quantitative", "scale": {"domain": [-0.2, 263.2], "nice": false, "zero": false}, "axis": null},
    "y": {"datum": 0, "type": "quantitative", "scale": {"domain": [0, 103.1], "nice": false, "zero": false}, "axis": null},
    "y2": {"datum": -3.2}}},
  {"data": {"name": "dt"}, "mark": {"type": "text", "color": "#111111", "fontSize": 2.8, "align": "left", "baseline": "top", "dx": 0.6},
   "encoding": {
    "x": {"field": "i", "type": "quantitative", "scale": {"domain": [-0.2, 263.2], "nice": false, "zero": false}, "axis": null},
    "y": {"datum": -4.2, "type": "quantitative", "scale": {"domain": [0, 103.1], "nice": false, "zero": false}, "axis": null},
    "text": {"field": "t"}}},
  {"data": {"values": [{}]}, "mark": {"type": "text", "color": "#222222", "fontSize": 2.8, "align": "left", "baseline": "middle"},
   "encoding": {
    "x": {"datum": 0.4, "type": "quantitative", "scale": {"domain": [-0.2, 263.2], "nice": false, "zero": false}, "axis": null},
    "y": {"datum": 98, "type": "quantitative", "scale": {"domain": [0, 103.1], "nice": false, "zero": false}, "axis": null},
    "text": {"value": "RSI(14) 46.9125"}}},
  {"data": {"values": [{}]}, "mark": {"type": "rect", "fill": "#ffffff", "fillOpacity": 0.35, "stroke": "#dcdcdc", "strokeWidth": 0.9, "cornerRadius": 9},
   "encoding": {
    "x": {"datum": 196, "type": "quantitative", "scale": {"domain": [-0.2, 263.2], "nice": false, "zero": false}, "axis": null},
    "x2": {"datum": 217},
    "y": {"datum": 70, "type": "quantitative", "scale": {"domain": [0, 103.1], "nice": false, "zero": false}, "axis": null},
    "y2": {"datum": 4}}},
  {"data": {"values": [{}]}, "mark": {"type": "text", "fontSize": 30, "fontWeight": "bold", "align": "center", "baseline": "middle", "fill": "#ffffff", "fillOpacity": 0.4, "stroke": "#dcdcdc", "strokeWidth": 0.8},
   "encoding": {
    "x": {"datum": 241.5, "type": "quantitative", "scale": {"domain": [-0.2, 263.2], "nice": false, "zero": false}, "axis": null},
    "y": {"datum": 35, "type": "quantitative", "scale": {"domain": [0, 103.1], "nice": false, "zero": false}, "axis": null},
    "text": {"value": "WikiFX"}}}
 ]
}
]
}
